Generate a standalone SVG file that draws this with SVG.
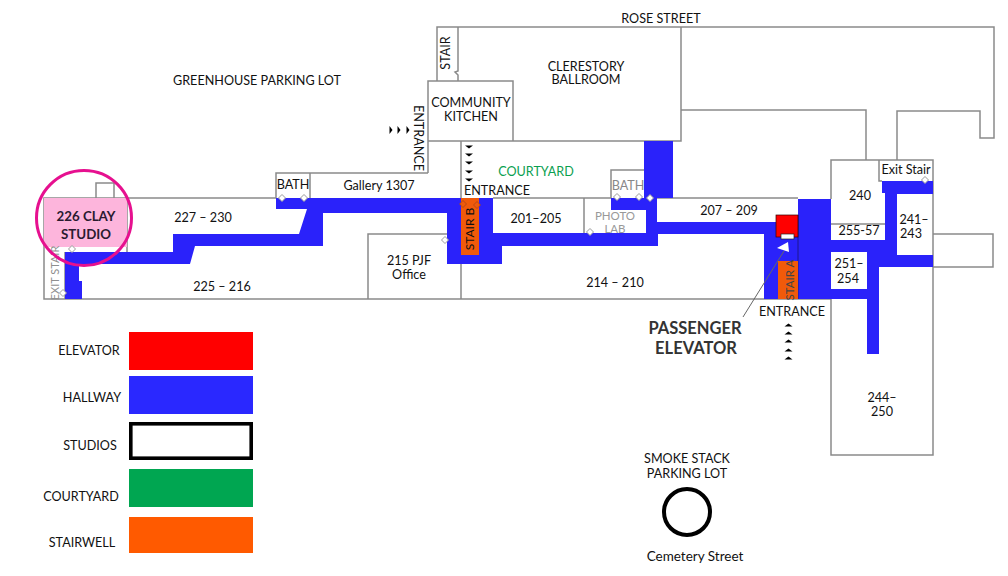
<svg xmlns="http://www.w3.org/2000/svg" width="1008" height="576" viewBox="0 0 1008 576">
<style>
text{font-family:"Lato","Liberation Sans",sans-serif;font-size:12.6px;fill:#111;text-anchor:middle}
.w{fill:none;stroke:#8a8a8a;stroke-width:1.5}
.r{fill:#fff;stroke:none}
.d{fill:#fff;stroke:#9a9a9a;stroke-width:1}
.big{font-size:16.500px;fill:#333;font-weight:700}
</style>
<defs>
<path id="tri" d="M-4,1.500L4,1.500L0,-1.500Z" fill="#000"/>
<path id="door" d="M0,-3.500L3.500,0L0,3.500L-3.500,0Z"/>
</defs>
<rect width="1008" height="576" fill="#fff"/>
<g id="walls">
<path class="w" d="M276,198H44V299H831V455H933V160H831V199M276,198V173H428M310,173V198M428,173V81H513V141H681V27H458V71L455,72L458,75V81M437,81V27H458M461,141V299M513,141H428M681,110H866V160M897,160V111H980V138H994V27H681M933,234H993V267H933M879,160V181H882M368,299V234H447M584,198V233M611,198V170H644M493,198H611M657,198H798M65,252V299M127,198V252"/>
</g>
<g id="hallway"><path fill="#2a22fa" d="M65,252H173V234H299L307,209H276V198H493V233H646V210H611V198H644V141H673V198H657V222H798V199H831V240H885V193H882V181H933V194H897V255H933V267H879V354H867V299H764V234H658V246H502V264H447V213H323V246H195L190,264H79V281H82V299H65Z"/><path d="M798,215V299" stroke="#1c1690" stroke-width="1" fill="none"/></g>
<g id="room-255"><path class="w" d="M831,224H885"/></g>
<g id="room-251"><rect class="r" x="831" y="252" width="36" height="37"/></g>
<g id="stair-b"><rect x="461" y="198" width="18" height="57" fill="#f05a0a"/><text transform="translate(474,229) rotate(-90)" style="font-size:12px">STAIR B</text></g>
<g id="stair-a"><rect x="778" y="261" width="20" height="38" fill="#f05a0a"/><text transform="translate(794,280) rotate(-90)" style="fill:#444;font-size:11.500px">STAIR A</text></g>
<g id="elevator"><rect x="776" y="215" width="22" height="22" fill="#f00" stroke="#300" stroke-width="0.7"/><rect x="781" y="234" width="13" height="5" fill="#fff" stroke="#222" stroke-width="0.7"/></g>
<g id="clay"><rect x="44" y="198" width="83" height="49" fill="#fdb5dc"/><path class="w" d="M96,198V183H114V198"/><text x="86" y="221" style="font-weight:700;font-size:13.300px;fill:#2a1a30">226 CLAY</text><text x="86" y="239" style="font-weight:700;font-size:13.300px;fill:#2a1a30">STUDIO</text></g>
<g id="doors" class="d">
<use href="#door" x="282" y="198"/><use href="#door" x="304" y="198"/><use href="#door" x="63" y="293"/><use href="#door" x="72" y="249"/><use href="#door" x="445" y="240"/><use href="#door" x="590" y="232"/><use href="#door" x="617" y="197"/><use href="#door" x="639" y="197"/><use href="#door" x="650" y="198"/><use href="#door" x="925" y="180"/>
</g>
<g id="stair-b-doors" fill="#f05a0a" stroke="#a04020" stroke-width="0.7"><use href="#door" x="463" y="204"/><use href="#door" x="477" y="205"/></g>
<g id="labels" transform="translate(0,1)">
<text x="661" y="22">ROSE STREET</text>
<text x="257" y="84">GREENHOUSE PARKING LOT</text>
<text x="586" y="70">CLERESTORY</text><text x="586" y="83">BALLROOM</text>
<text x="471" y="106">COMMUNITY</text><text x="471" y="120">KITCHEN</text>
<text transform="translate(450,52) rotate(-90)">STAIR</text>
<text transform="translate(414,137) rotate(90)">ENTRANCE</text>
<text x="536" y="175" style="fill:#0aa050">COURTYARD</text>
<text x="497" y="194">ENTRANCE</text>
<text x="293" y="188">BATH</text>
<text x="379" y="189">Gallery 1307</text>
<text x="628" y="189" style="fill:#888">BATH</text>
<text x="203" y="221">227 – 230</text>
<text x="222" y="290">225 – 216</text>
<text x="536" y="222">201–205</text>
<text x="615" y="219" style="fill:#999;font-size:11.500px">PHOTO</text><text x="615" y="232" style="fill:#999;font-size:11.500px">LAB</text>
<text x="409" y="264">215 PJF</text><text x="409" y="278">Office</text>
<text x="615" y="286">214 – 210</text>
<text x="729" y="214">207 – 209</text>
<text x="860" y="199">240</text>
<text x="859" y="234">255-57</text>
<text x="906" y="173">Exit Stair</text>
<text x="914" y="223">241–</text><text x="911" y="237">243</text>
<text x="849" y="267">251–</text><text x="848" y="282">254</text>
<text x="792" y="315">ENTRANCE</text>
<text x="882" y="401">244–</text><text x="882" y="415">250</text>
<text x="687" y="462">SMOKE STACK</text><text x="687" y="477">PARKING LOT</text>
<text x="695" y="560" style="font-size:13.500px">Cemetery Street</text>
<text transform="translate(59,272) rotate(-90)" style="fill:#8f8f8f;font-size:11px">EXIT STAIR</text>
<text x="695" y="333" class="big">PASSENGER</text>
<text x="696" y="353" class="big">ELEVATOR</text>
</g>
<g id="connectors">
<path d="M743,317L784,251" stroke="#666" fill="none"/>
<path d="M777,248L788,242L789,252Z" fill="#fff"/>
</g>
<g id="entrance-arrows">
<use href="#tri" transform="translate(788.500,325)"/><use href="#tri" transform="translate(788.500,333)"/><use href="#tri" transform="translate(788.500,341)"/><use href="#tri" transform="translate(788.500,350)"/><use href="#tri" transform="translate(788.500,358)"/>
<use href="#tri" transform="translate(469,147) rotate(180)"/><use href="#tri" transform="translate(469,155) rotate(180)"/><use href="#tri" transform="translate(469,163) rotate(180)"/><use href="#tri" transform="translate(469,172) rotate(180)"/><use href="#tri" transform="translate(469,180) rotate(180)"/>
<use href="#tri" transform="translate(391,130) rotate(90)"/><use href="#tri" transform="translate(399,130) rotate(90)"/><use href="#tri" transform="translate(408,130) rotate(90)"/>
</g>
<g id="legend">
<rect x="129" y="332" width="124" height="38" fill="#f00"/>
<rect x="129" y="376" width="124" height="38" fill="#2a28ff"/>
<rect x="130.800" y="423.800" width="120.400" height="34.400" fill="#fff" stroke="#000" stroke-width="3.600"/>
<rect x="129" y="469" width="124" height="38" fill="#00a651"/>
<rect x="129" y="517" width="124" height="36" fill="#ff5a00"/>
<text x="89" y="355">ELEVATOR</text><text x="92" y="402">HALLWAY</text><text x="90" y="450">STUDIOS</text><text x="81" y="501">COURTYARD</text><text x="82" y="547">STAIRWELL</text>
</g>
<g id="stack"><circle cx="687" cy="512" r="23" fill="none" stroke="#000" stroke-width="4"/></g>
<g id="highlight"><circle cx="84" cy="218" r="47.500" fill="none" stroke="#e6108f" stroke-width="3"/></g>
</svg>
